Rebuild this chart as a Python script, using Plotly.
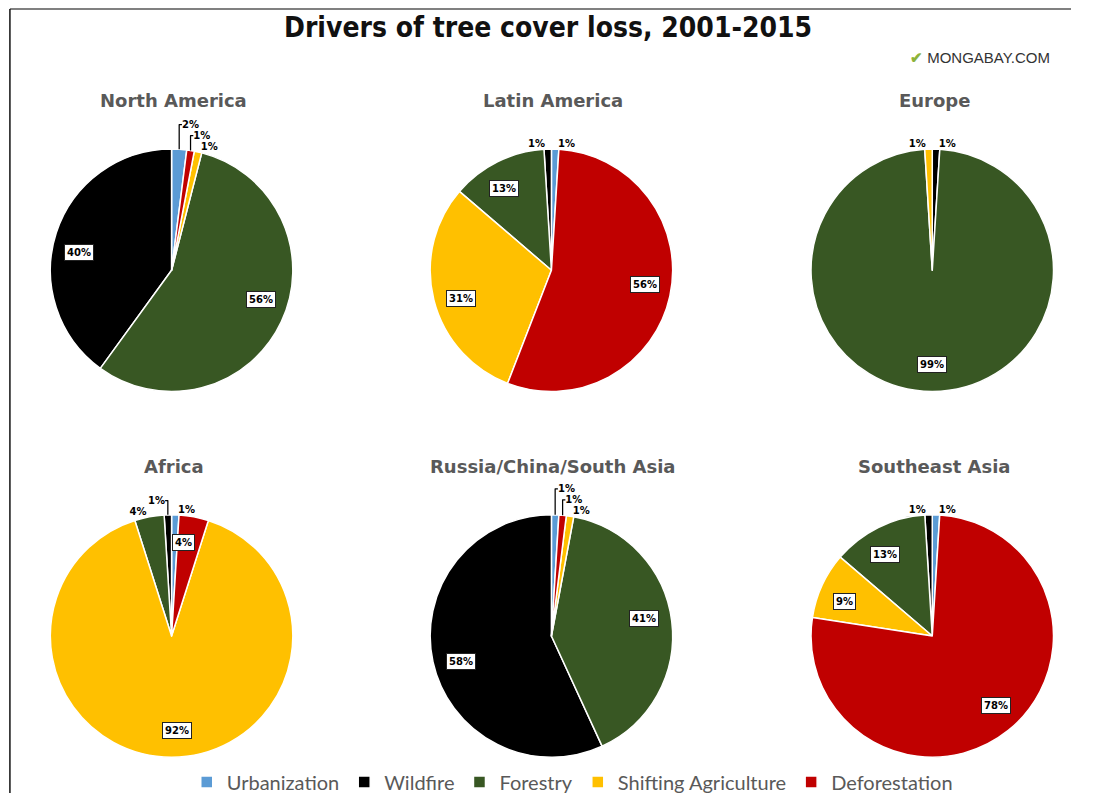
import math
import plotly.graph_objects as go

# ---------------- data ----------------
categories = ["Urbanization", "Wildfire", "Forestry", "Shifting Agriculture", "Deforestation"]
colors = ["#5B9BD5", "#000000", "#385723", "#FFC000", "#C00000"]

regions = ["North America", "Latin America", "Europe",
           "Africa", "Russia/China/South Asia", "Southeast Asia"]

north_america = [2, 40, 56, 1, 1]
latin_america = [1, 1, 13, 31, 56]
europe = [0, 1, 99, 1, 0]
africa = [1, 1, 4, 92, 4]
russia_china_south_asia = [1, 58, 41, 1, 1]
southeast_asia = [1, 1, 13, 9, 78]

region_values = [north_america, latin_america, europe,
                 africa, russia_china_south_asia, southeast_asia]

# ---------------- layout / style ----------------
W, H = 1093, 802
SX, SY = 0.988, 0.995     # observed page scaling of the rendered figure
PWX, PWY = W * SX, H * SY
R = 122                   # pie radius in (displayed) px
centers = [(173, 272), (556, 272), (940, 272),
           (173, 640), (556, 640), (940, 640)]
directions = ["counterclockwise", "counterclockwise", "clockwise",
              "counterclockwise", "counterclockwise", "counterclockwise"]
boxed_small = {("Africa", "Deforestation")}
BOX_MIN = 5
LABEL_FRAC = 0.78


def px(x):
    return x / PWX


def py(y):
    return 1 - y / PWY


fig = go.Figure()
annotations = []

for k, (reg, vals) in enumerate(zip(regions, region_values)):
    cx, cy = centers[k]
    labs = [c for c, v in zip(categories, vals) if v > 0]
    vv = [v for v in vals if v > 0]
    cols = [colors[categories.index(c)] for c in labs]
    positions = []
    texts = []
    for c, v in zip(labs, vv):
        boxed = v >= BOX_MIN or (reg, c) in boxed_small
        positions.append("none" if boxed else "outside")
        texts.append(f"{v}%")
    hw = min(R + 18, PWX - cx, cx)
    fig.add_trace(go.Pie(
        labels=labs, values=vv, text=texts, textinfo="text",
        textposition=positions, sort=False, direction=directions[k],
        rotation=0,
        marker=dict(colors=cols, line=dict(color="white", width=1.5)),
        textfont=dict(family="DejaVu Sans", size=10, color="black", weight="bold"),
        domain=dict(x=[max(0, px(cx - hw)), min(1, px(cx + hw))],
                    y=[py(cy + R), py(cy - R)]),
        showlegend=(k == 0), hoverinfo="label+text",
    ))
    total = sum(vv)
    cum = 0
    sign = -1 if directions[k] == "counterclockwise" else 1
    for c, v in zip(labs, vv):
        boxed = v >= BOX_MIN or (reg, c) in boxed_small
        if boxed:
            a = 2 * math.pi * (cum + v / 2) / total
            lx = cx + sign * LABEL_FRAC * R * math.sin(a)
            ly = cy - LABEL_FRAC * R * math.cos(a)
            annotations.append(dict(
                x=px(lx), y=py(ly), xref="paper", yref="paper",
                xanchor="center", yanchor="middle",
                text=f"<b>{v}%</b>", showarrow=False,
                font=dict(family="DejaVu Sans", size=10, color="black"),
                bgcolor="white", bordercolor="#222222", borderwidth=1, borderpad=2,
            ))
        cum += v
    annotations.append(dict(
        x=px(cx + 2), y=py(cy - 171), xref="paper", yref="paper",
        xanchor="center", yanchor="middle",
        text=f"<b>{reg}</b>", showarrow=False,
        font=dict(family="DejaVu Sans", size=18, color="#595959"),
    ))

annotations.append(dict(
    x=px(553), y=py(28), xref="paper", yref="paper", xanchor="center", yanchor="middle",
    text="<b>Drivers of tree cover loss, 2001-2015</b>", showarrow=False,
    font=dict(family="Liberation Sans Narrow, DejaVu Sans Condensed, Arial Narrow, sans-serif",
              size=28, color="#111111"),
))
annotations.append(dict(
    x=px(916), y=py(58), xref="paper", yref="paper", xanchor="left", yanchor="middle",
    text="<span style='color:#8DB33A'><b>✔</b></span> MONGABAY.COM", showarrow=False,
    font=dict(family="Liberation Sans, Arial, sans-serif", size=15, color="#333333"),
))

shapes = [
    dict(type="line", xref="paper", yref="paper", x0=px(10), x1=1, y0=py(9), y1=py(9),
         line=dict(color="#808080", width=2)),
    dict(type="line", xref="paper", yref="paper", x0=px(10), x1=px(10), y0=py(9), y1=0,
         line=dict(color="#111111", width=1.5)),
]

fig.update_layout(
    width=W, height=H,
    margin=dict(l=0, r=0, t=0, b=0),
    paper_bgcolor="white", plot_bgcolor="white",
    annotations=annotations, shapes=shapes,
    legend=dict(orientation="h", x=px(577), xanchor="center", y=py(787), yanchor="middle",
                font=dict(family="Lato, Open Sans, sans-serif", size=20, color="#595959"),
                traceorder="normal", itemclick=False),
)

fig.write_html("out.html")
